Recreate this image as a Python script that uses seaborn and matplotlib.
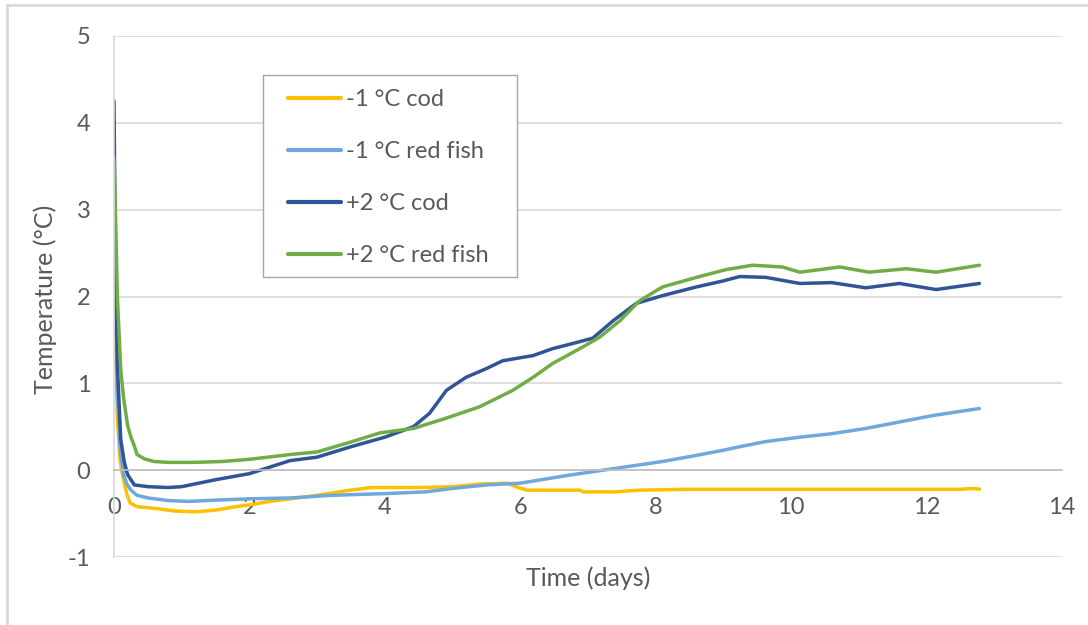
import numpy as np
import pandas as pd
import matplotlib
matplotlib.use("Agg")
import matplotlib.pyplot as plt
from matplotlib.patches import Rectangle
import seaborn as sns

# series (time in days, temperature in degC)
cod_m1_t = [0, 0.02, 0.05, 0.09, 0.14, 0.19, 0.24, 0.34, 0.6, 0.9, 1.2, 1.5, 1.8, 2.0, 2.3, 2.6,
            3.0, 3.4, 3.8, 4.5, 5.0, 5.4, 5.8, 5.97, 6.1, 6.5, 6.88, 6.93, 7.4, 7.76, 8.5, 9.5,
            10.5, 11.5, 12.5, 12.7, 12.78]
cod_m1_v = [2.8, 1.6, 0.6, 0.1, -0.11, -0.28, -0.38, -0.42, -0.44, -0.47, -0.48, -0.46, -0.42,
            -0.40, -0.36, -0.33, -0.29, -0.24, -0.2, -0.2, -0.19, -0.16, -0.15, -0.2, -0.23,
            -0.23, -0.23, -0.25, -0.25, -0.23, -0.22, -0.22, -0.22, -0.22, -0.22, -0.21, -0.22]

red_m1_t = [0, 0.02, 0.05, 0.09, 0.14, 0.19, 0.25, 0.34, 0.5, 0.8, 1.1, 1.5, 2.0, 2.6, 3.2,
            4.0, 4.6, 5.0, 5.5, 6.0, 6.7, 7.4, 8.1, 8.6, 9.0, 9.24, 9.63, 10.13, 10.6, 11.1,
            11.6, 12.1, 12.78]
red_m1_v = [3.2, 2.0, 0.9, 0.25, -0.05, -0.16, -0.23, -0.29, -0.32, -0.35, -0.36, -0.345,
            -0.33, -0.32, -0.29, -0.27, -0.25, -0.21, -0.17, -0.15, -0.06, 0.02, 0.1, 0.17,
            0.23, 0.27, 0.33, 0.38, 0.42, 0.48, 0.555, 0.63, 0.71]

cod_p2_t = [0, 0.02, 0.05, 0.1, 0.15, 0.2, 0.3, 0.5, 0.8, 1.0, 1.5, 2.0, 2.6, 3.0, 3.5, 4.0,
            4.42, 4.66, 4.91, 5.2, 5.5, 5.74, 6.19, 6.48, 6.78, 7.07, 7.37, 7.71, 8.1, 8.6,
            9.0, 9.24, 9.63, 10.13, 10.6, 11.1, 11.6, 12.14, 12.78]
cod_p2_v = [4.25, 2.5, 1.2, 0.35, 0.1, -0.05, -0.17, -0.19, -0.2, -0.19, -0.11, -0.04, 0.11,
            0.15, 0.27, 0.38, 0.5, 0.655, 0.92, 1.07, 1.17, 1.26, 1.32, 1.40, 1.46, 1.52, 1.72,
            1.92, 2.01, 2.11, 2.18, 2.23, 2.22, 2.15, 2.16, 2.10, 2.15, 2.08, 2.15]

red_p2_t = [0, 0.03, 0.05, 0.1, 0.14, 0.2, 0.25, 0.3, 0.34, 0.45, 0.59, 0.8, 1.2, 1.6, 2.0,
            2.6, 3.0, 3.5, 3.93, 4.42, 4.91, 5.4, 5.89, 6.19, 6.48, 6.88, 7.17, 7.47, 7.76,
            8.1, 8.6, 9.04, 9.43, 9.87, 10.13, 10.72, 11.15, 11.7, 12.14, 12.78]
red_p2_v = [3.6, 2.7, 2.0, 1.15, 0.84, 0.52, 0.38, 0.28, 0.18, 0.13, 0.1, 0.09, 0.09, 0.1,
            0.125, 0.18, 0.21, 0.325, 0.43, 0.48, 0.6, 0.73, 0.92, 1.07, 1.23, 1.40, 1.53,
            1.72, 1.95, 2.11, 2.22, 2.31, 2.36, 2.34, 2.28, 2.34, 2.28, 2.32, 2.28, 2.36]

labels = ["-1 °C cod", "-1 °C red fish", "+2 °C cod", "+2 °C red fish"]
colors = ["#FFC000", "#6FA8DC", "#2F5597", "#70AD47"]

frames = []
for lab, t, v in zip(labels,
                     [cod_m1_t, red_m1_t, cod_p2_t, red_p2_t],
                     [cod_m1_v, red_m1_v, cod_p2_v, red_p2_v]):
    frames.append(pd.DataFrame({"time": t, "temp": v, "series": lab}))
df = pd.concat(frames, ignore_index=True)

sns.set_style("white")
plt.rcParams['font.family'] = ['Lato', 'DejaVu Sans']
plt.rcParams['axes.unicode_minus'] = False

W, H = 1088, 625
fig = plt.figure(figsize=(W / 100, H / 100), dpi=100)
ax = fig.add_axes([114 / W, 1 - 557 / H, 948 / W, 521 / H])

sns.lineplot(data=df, x="time", y="temp", hue="series", hue_order=labels,
             palette=colors, ax=ax, linewidth=2.5, sort=False, estimator=None)

ax.set_xlim(0, 14)
ax.set_ylim(-1, 5)
ax.set_xticks(range(0, 15, 2))
ax.set_yticks(range(-1, 6))
ax.grid(axis="y", color="#d9d9d9", linewidth=1.2)
ax.set_axisbelow(True)

for s in ["top", "right"]:
    ax.spines[s].set_visible(False)
ax.spines["bottom"].set_position(("data", 0))
ax.spines["bottom"].set_color("#bfbfbf")
ax.spines["bottom"].set_linewidth(1.2)
ax.spines["left"].set_color("#d9d9d9")
ax.spines["left"].set_linewidth(1.2)

ax.tick_params(axis="both", length=0, labelsize=17, labelcolor="#595959")
ax.tick_params(axis="x", pad=19)
ax.tick_params(axis="y", pad=17)

ax.set_xlabel("")
ax.set_ylabel("")
fig.text(588 / W, 1 - 578 / H, "Time (days)", ha="center", va="center",
         fontsize=18, color="#595959")
fig.text(45 / W, 1 - 299 / H, "Temperature (°C)", ha="center", va="center",
         rotation=90, fontsize=18, color="#595959")

# legend entries without frame, frame drawn as its own box
leg = ax.legend(loc="upper left",
                bbox_to_anchor=((288 - 114) / 948, 1 - (89 - 36) / 521),
                borderaxespad=0, borderpad=0, fontsize=17, handlelength=2.25,
                handletextpad=0.2, labelspacing=1.31, frameon=False)
for txt in leg.get_texts():
    txt.set_color("#595959")
for line in leg.get_lines():
    line.set_linewidth(3)

ax.add_patch(Rectangle(((263 - 114) / 948, 1 - (277 - 36) / 521), 254 / 948, 202 / 521,
                       transform=ax.transAxes, fill=True, facecolor="white",
                       edgecolor="#a6a6a6", linewidth=1.0, zorder=4))
leg.set_zorder(5)

# outer chart-area border (left and top edges are visible)
fig.add_artist(Rectangle((7 / W, -0.1), 1.2, 1 - 5 / H + 0.1,
                         transform=fig.transFigure, fill=False,
                         edgecolor="#d9d9d9", linewidth=2))

fig.savefig("out.png", dpi=100)
